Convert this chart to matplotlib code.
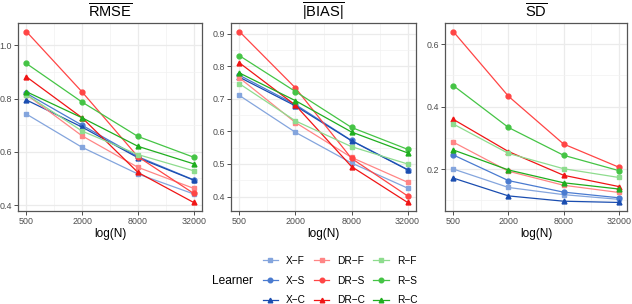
import numpy as np
from matplotlib import pyplot as plt
from matplotlib.lines import Line2D
from matplotlib.ticker import FixedLocator, NullFormatter

plt.rcParams['font.family'] = ['Liberation Sans', 'DejaVu Sans']
plt.rcParams['mathtext.fontset'] = 'custom'
plt.rcParams['mathtext.rm'] = 'Liberation Sans'

### DATA ###
N = [500, 2000, 8000, 32000]
learners = ['X-F', 'X-S', 'X-C', 'DR-F', 'DR-S', 'DR-C', 'R-F', 'R-S', 'R-C']

rmse = {
    'X-F':  [0.742, 0.617, 0.517, 0.442],
    'X-S':  [0.820, 0.700, 0.582, 0.495],
    'X-C':  [0.795, 0.693, 0.578, 0.494],
    'DR-F': [0.815, 0.660, 0.542, 0.463],
    'DR-S': [1.052, 0.825, 0.582, 0.444],
    'DR-C': [0.882, 0.728, 0.523, 0.410],
    'R-F':  [0.815, 0.678, 0.590, 0.529],
    'R-S':  [0.932, 0.787, 0.658, 0.580],
    'R-C':  [0.826, 0.728, 0.621, 0.555],
}
bias = {
    'X-F':  [0.710, 0.597, 0.503, 0.426],
    'X-S':  [0.772, 0.682, 0.572, 0.483],
    'X-C':  [0.766, 0.678, 0.571, 0.482],
    'DR-F': [0.764, 0.627, 0.520, 0.444],
    'DR-S': [0.906, 0.733, 0.517, 0.402],
    'DR-C': [0.810, 0.680, 0.492, 0.382],
    'R-F':  [0.746, 0.632, 0.553, 0.500],
    'R-S':  [0.832, 0.722, 0.612, 0.545],
    'R-C':  [0.779, 0.694, 0.598, 0.534],
}
sd = {
    'X-F':  [0.200, 0.141, 0.118, 0.103],
    'X-S':  [0.245, 0.163, 0.126, 0.108],
    'X-C':  [0.171, 0.114, 0.097, 0.093],
    'DR-F': [0.286, 0.193, 0.148, 0.125],
    'DR-S': [0.640, 0.433, 0.280, 0.206],
    'DR-C': [0.359, 0.256, 0.180, 0.144],
    'R-F':  [0.344, 0.250, 0.201, 0.173],
    'R-S':  [0.467, 0.333, 0.244, 0.195],
    'R-C':  [0.261, 0.197, 0.156, 0.136],
}

titles = [r'$\overline{\mathrm{RMSE}}$', r'$\overline{|\mathrm{BIAS}|}$', r'$\overline{\mathrm{SD}}$']
yticks = [[0.4, 0.6, 0.8, 1.0], [0.4, 0.5, 0.6, 0.7, 0.8, 0.9], [0.2, 0.4, 0.6]]
yminor = [[0.5, 0.7, 0.9], [0.45, 0.55, 0.65, 0.75, 0.85], [0.1, 0.3, 0.5]]

### STYLE ###
colors = {
    'X-F': '#84A5DD', 'X-S': '#4A7BD0', 'X-C': '#1A4DB0',
    'DR-F': '#FF8585', 'DR-S': '#FF4545', 'DR-C': '#F01515',
    'R-F': '#8EDC8E', 'R-S': '#45C445', 'R-C': '#1FAE1F',
}
markers = {'F': 's', 'S': 'o', 'C': '^'}

fig = plt.figure(figsize=(6.32, 3.04), dpi=100)
W, H = 632, 304
panels = [(18, 202), (231, 416), (445, 627)]
top, bot = 23, 211

pad = 64 ** 0.05
for k, (data, (x0, x1)) in enumerate(zip([rmse, bias, sd], panels)):
    ax = fig.add_axes([x0 / W, (H - bot) / H, (x1 - x0) / W, (bot - top) / H])
    for name in learners:
        ax.plot(N, data[name], color=colors[name], marker=markers[name[-1]],
                lw=0.9, ms=3.5, zorder=3)
    ax.set_xscale('log')
    ax.set_xlim(500 / pad, 32000 * pad)
    ax.xaxis.set_major_locator(FixedLocator(N))
    ax.set_xticklabels([str(n) for n in N])
    ax.xaxis.set_minor_locator(FixedLocator([1000, 4000, 16000]))
    ax.xaxis.set_minor_formatter(NullFormatter())
    ax.set_yticks(yticks[k])
    ax.set_yticklabels([('%.1f' % v) for v in yticks[k]])
    ax.set_yticks(yminor[k], minor=True)
    ax.grid(which='major', color='#EBEBEB', lw=0.9, zorder=0)
    ax.grid(which='minor', color='#F2F2F2', lw=0.5, zorder=0)
    ax.tick_params(which='major', length=3, width=0.6, color='#333333',
                   labelsize=6.4, labelcolor='#4D4D4D', pad=1.5)
    ax.tick_params(which='minor', length=0)
    for s in ax.spines.values():
        s.set_color('#555555')
        s.set_linewidth(0.9)
    ax.set_xlabel('log(N)', fontsize=8.5, labelpad=1)
    ax.set_title(titles[k], fontsize=10.5, pad=4)

### LEGEND ###
handles = [Line2D([], [], color=colors[n], marker=markers[n[-1]], lw=0.9, ms=3.3)
           for n in learners]
labels = [n.replace('-', '\u2212') for n in learners]
fig.legend(handles, labels, ncol=3, loc='center', bbox_to_anchor=(340 / W, 1 - 280.5 / H),
           frameon=False, fontsize=7.3, handlelength=1.5, handletextpad=0.8,
           columnspacing=0.8, labelspacing=0.95, borderpad=0)
fig.text(212 / W, 1 - 280.5 / H, 'Learner', fontsize=8.6, va='center', ha='left')

fig.savefig('out.png', dpi=100)
